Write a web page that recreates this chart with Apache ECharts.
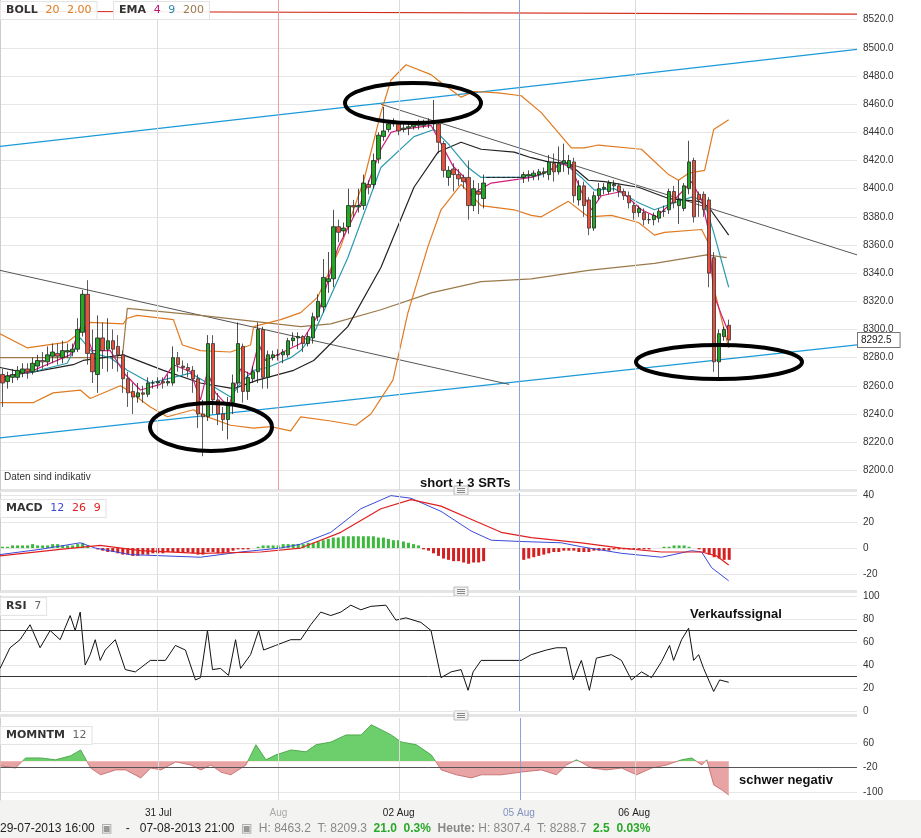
<!DOCTYPE html>
<html><head><meta charset="utf-8">
<script src="https://cdn.jsdelivr.net/npm/echarts@6/dist/echarts.min.js"></script>
<style>html,body{margin:0;padding:0;background:#fff}#c{width:921px;height:838px}</style>
</head><body><div id="c"></div>
<script>
const tickIdx=[31,55,79,103,126];
const tickText=['31 Jul','Aug','02 Aug','05 Aug','06 Aug'];
const candles=[
[8268,8262,8245,8272],[8263,8267,8258,8270],[8266,8268,8262,8272],[8266,8271,8264,8274],[8269,8272,8266,8276],
[8272,8270,8265,8276],[8270,8276,8268,8280],[8274,8278,8270,8282],[8278,8277,8272,8284],[8277,8282,8274,8288],
[8281,8284,8276,8290],[8283,8281,8275,8290],[8280,8285,8276,8292],[8284,8285,8280,8290],[8284,8286,8281,8290],
[8286,8300,8284,8308],[8298,8325,8295,8328],[8325,8283,8275,8335],[8283,8270,8262,8300],[8268,8294,8255,8310],
[8294,8285,8272,8305],[8286,8292,8270,8308],[8292,8286,8272,8300],[8288,8282,8270,8296],[8282,8265,8255,8285],
[8265,8255,8245,8270],[8256,8252,8240,8262],[8252,8255,8248,8262],[8255,8254,8248,8260],[8254,8262,8252,8266],
[8262,8262,8258,8264],[8262,8263,8258,8266],[8263,8262,8258,8266],[8262,8263,8260,8268],[8262,8280,8260,8288],
[8280,8275,8270,8284],[8274,8273,8268,8278],[8273,8271,8266,8276],[8271,8265,8255,8274],[8265,8240,8230,8268],
[8240,8238,8210,8250],[8238,8290,8235,8296],[8290,8250,8240,8296],[8250,8240,8232,8255],[8240,8236,8228,8245],
[8236,8248,8222,8252],[8248,8262,8240,8268],[8262,8290,8255,8305],[8288,8256,8248,8290],[8256,8266,8250,8270],
[8265,8270,8262,8274],[8270,8300,8262,8305],[8300,8266,8258,8302],[8266,8282,8258,8285],[8280,8282,8278,8285],
[8282,8282,8278,8286],[8282,8284,8276,8286],[8282,8292,8280,8294],[8292,8294,8288,8298],[8294,8295,8286,8298],
[8295,8290,8284,8296],[8290,8295,8288,8298],[8294,8309,8290,8312],[8309,8320,8306,8325],[8316,8337,8312,8350],
[8334,8336,8326,8355],[8336,8373,8330,8385],[8373,8369,8362,8378],[8370,8372,8366,8376],[8373,8388,8368,8400],
[8388,8387,8380,8392],[8387,8388,8383,8400],[8388,8404,8385,8410],[8403,8401,8396,8406],[8403,8420,8400,8425],
[8421,8438,8418,8440],[8437,8441,8434,8458],[8442,8446,8440,8449],[8446,8448,8444,8450],[8446,8441,8438,8448],
[8442,8443,8440,8446],[8443,8444,8438,8447],[8444,8446,8442,8448],[8445,8446,8442,8449],[8445,8447,8443,8449],
[8446,8447,8443,8450],[8446,8448,8442,8463],[8446,8433,8425,8447],[8432,8413,8408,8434],[8408,8413,8402,8416],
[8414,8410,8398,8418],[8410,8407,8402,8414],[8408,8405,8400,8410],[8408,8388,8378,8420],[8388,8400,8384,8406],
[8398,8396,8382,8404],[8393,8404,8386,8410],
[8408,8408,8408,8408],[8408,8408,8408,8408],[8408,8408,8408,8408],[8408,8408,8408,8408],[8408,8408,8408,8408],[8408,8408,8408,8408],[8408,8408,8408,8408],
[8408,8410,8404,8412],[8409,8410,8405,8413],[8409,8411,8406,8413],[8410,8412,8406,8414],[8411,8412,8408,8415],
[8410,8419,8406,8424],[8418,8412,8405,8425],[8412,8418,8410,8430],[8418,8420,8412,8432],[8415,8420,8410,8424],
[8419,8395,8390,8422],[8392,8402,8388,8406],[8402,8388,8380,8405],[8392,8372,8367,8394],[8372,8395,8370,8398],
[8395,8400,8392,8404],[8400,8401,8396,8404],[8398,8404,8396,8406],[8402,8403,8398,8406],[8402,8398,8394,8404],
[8398,8395,8392,8400],[8395,8390,8386,8398],[8388,8383,8378,8390],[8383,8386,8380,8388],[8383,8378,8374,8386],
[8378,8378,8375,8382],[8378,8381,8374,8383],[8379,8384,8376,8386],[8384,8384,8380,8388],[8385,8398,8382,8400],
[8398,8390,8386,8402],[8388,8392,8375,8406],[8386,8402,8384,8404],[8400,8419,8396,8434],[8420,8380,8376,8422],
[8396,8392,8380,8398],[8396,8385,8380,8398],[8392,8340,8330,8394],[8351,8277,8270,8355],[8277,8297,8265,8300],
[8295,8300,8292,8302],[8303,8292.5,8288,8307]];
const ema200=[[0,8280],[24.4,8280],[25.4,8315],[40,8310],[60,8302],[66,8304],[76,8314],[86,8326],[96,8334],[106,8336],[117.4,8342],[130.6,8347],[141,8353],[145,8351]];
const bollUpper=[[0,8297],[5.4,8287],[13.4,8291],[16,8298],[18,8305],[24.6,8304],[25.4,8308],[27.4,8310],[34.6,8307],[36.4,8289],[40,8285],[46,8284],[50,8289],[50.6,8302],[56,8307],[60,8312],[63.4,8323],[68,8359],[72.6,8406],[76,8454],[78,8477],[81,8488],[86,8481],[87.4,8477],[92,8465],[94.6,8469],[99.4,8468],[104,8466],[108,8454],[114,8429],[116.6,8429],[119.4,8431],[128,8428],[133.4,8410],[135.4,8406],[137.4,8411],[140.6,8413],[142.4,8442],[145.4,8449]];
const bollLower=[[0,8248],[6.6,8248],[10.6,8255],[16,8257],[18,8251],[24,8260],[25.4,8257],[30,8245],[33.4,8238],[38.6,8243],[40.6,8239],[46,8232],[50.6,8230],[54,8231],[58,8228],[60,8238],[66,8235],[71,8232],[74,8240],[78.4,8264],[81.4,8312],[85.4,8359],[88,8385],[92,8403],[96,8388],[102.6,8385],[106,8381],[108,8380],[113.4,8391],[117.4,8380],[122,8381],[127.4,8376],[130.6,8367],[132.6,8369],[140,8371],[141.4,8361],[142.4,8330],[145.4,8287]];
const bollMid=[[0,8273],[5.4,8269],[14.6,8275],[16.6,8278],[24.6,8282],[32.6,8271],[40,8262],[46.6,8258],[51.4,8264],[58.6,8271],[62.6,8278],[69.4,8302],[76,8344],[82.6,8401],[87.4,8426],[92,8433],[96,8428],[102.6,8426],[106,8422],[109.4,8419],[113.4,8418],[117.4,8406],[120.6,8405],[127.4,8401],[133.4,8393],[139.4,8391],[141.4,8387],[145.4,8367]];
const ema9=[[0,8266],[6.6,8270],[13.4,8276],[16,8294],[18.6,8283],[22,8280],[25.4,8271],[30,8262],[34.6,8266],[38,8269],[41.4,8262],[46,8252],[48,8262],[50.6,8271],[53.4,8273],[58,8280],[60,8285],[62.6,8297],[69.4,8351],[76,8415],[82.6,8437],[86.6,8442],[89.4,8432],[93.4,8415],[96,8408],[106,8408],[108,8410],[112.6,8418],[116,8408],[118.6,8399],[122.6,8400],[127.4,8390],[130.6,8385],[134.6,8390],[138,8394],[140.4,8392],[142.4,8369],[145.4,8330]];
const ema4=[[0,8266],[6,8270],[14,8282],[16.4,8305],[18.4,8285],[22,8285],[25,8268],[28,8257],[32,8261],[34.6,8275],[38,8270],[40,8250],[41.4,8270],[43,8255],[45.6,8245],[48,8272],[50,8268],[51.6,8290],[53,8278],[60,8290],[63.4,8310],[67.4,8358],[72,8390],[76,8428],[78,8440],[80,8442],[86,8445],[88,8432],[90.4,8416],[92.4,8409],[94,8396],[96,8400],[98,8404],[106,8408],[109,8412],[112,8418],[114,8415],[116,8398],[118,8385],[120,8395],[124,8398],[128,8385],[131,8380],[134,8390],[138,8405],[140,8392],[141.4,8370],[142.4,8325],[144,8310],[145.4,8298]];
const redTop=[[0,8526],[171,8524]];
const blueUp=[[0,8430],[171,8499]];
const blueLow=[[0,8223],[171,8289]];
const grayA=[[0,8342],[101.6,8261]];
const grayB=[[76,8460],[171,8353]];
const macdLine=[[0,-5],[8,-1],[16,4],[19,0],[26,-5],[40,-7],[48,-3],[56,0],[60,3],[66,12],[72,30],[78,40],[82,38],[88,28],[94,13],[98,6],[104,5],[112,4],[116,1],[124,-4],[132,-7],[138,-2],[140,-3],[142,-15],[145.4,-25]];
const macdSignal=[[0,-6],[12,-1],[20,2],[28,-2],[40,-4],[52,-3],[60,0],[68,12],[76,30],[82,37],[88,32],[94,22],[100,12],[106,8],[116,4],[124,0],[132,-3],[140,-3],[143,-6],[145.4,-13]];
const macdHist=[1,1,2,2,2,2,3,2,2,2,3,3,2,2,2,3,4,2,0,-1,
-2,-3,-3,-4,-5,-5,-6,-6,-5,-5,-4,-4,-4,-3,-3,-3,-3,-3,-4,-5,-5,-3,-3,-4,-4,-3,-2,-1,-1,-1,0,
1,2,2,2,2,3,3,3,3,3,4,4,5,6,7,8,8,9,9,9,9,9,9,9,8,8,7,6,6,5,4,3,2,
-1,-2,-4,-6,-8,-9,-10,-10,-11,-12,-11,-11,-10,
0,0,0,0,0,0,0,
-9,-8,-7,-6,-5,-4,-3,-3,-2,-2,-2,-3,-3,-3,-2,-2,-2,-2,-1,-1,-1,-1,-1,-1,-1,-1,0,0,1,1,2,2,2,1,0,-1,-3,-5,-7,-8,-9,-9];
const rsi=[[0,37],[2,55],[4,62],[6,75],[8,55],[10,70],[12,62],[14,83],[15,70],[16,86],[17,40],[18,49],[19,62],[20,44],[21,53],[23,62],[25,36],[27,34],[30,44],[33,44],[35,57],[37,53],[39,27],[40,29],[41.4,70],[42.4,36],[44,37],[45.6,31],[47,62],[48,37],[50,49],[51.6,70],[52.6,53],[55,57],[58,62],[60,62],[62,75],[64,86],[66,83],[68,86],[70,92],[72,88],[74,91],[77,92],[79,79],[81,81],[84,77],[86,70],[88,29],[90,34],[92,36],[93.4,18],[94.4,34],[96,44],[104,44],[106,49],[109,53],[111,55],[113,55],[114.4,27],[116,44],[117.6,18],[119,46],[122,49],[124,44],[126,27],[128,34],[130,29],[132,43],[133.6,57],[134.4,44],[136,62],[137.4,72],[138.4,44],[139.4,49],[140.4,37],[142.4,17],[143.6,27],[145.4,25]];
const momentum=[[0,-15],[3,-22],[5,11],[8,11],[11,5],[14,18],[16,37],[18,-22],[20,-44],[23,-28],[25,-28],[28,-54],[30,-22],[32,-28],[35,-2],[38,-12],[40,-28],[42,-12],[44,-35],[46,-44],[49,-12],[51,54],[53,5],[55,21],[58,37],[61,31],[63,54],[66,63],[69,86],[72,86],[74,119],[76,103],[78,86],[80,63],[83,54],[86,21],[88,-28],[91,-44],[94,-54],[96,-44],[100,-44],[104,-35],[108,-28],[111,-44],[113,-12],[115,5],[118,-22],[121,-28],[124,-22],[127,-44],[130,-22],[133,-12],[136,5],[138,11],[140,-12],[141,5],[142.4,-77],[144,-93],[145.4,-110]];
const priceTicks=[8200,8220,8240,8260,8280,8300,8320,8340,8360,8380,8400,8420,8440,8460,8480,8500,8520];
const macdTicks=[-20,0,20,40];
const rsiTicks=[0,20,40,60,80,100];
const momTicks=[-100,-20,60];
const lastPrice=8292.5;

const N=171;
const cats=[];for(let i=0;i<N;i++){const k=tickIdx.indexOf(i);cats.push(k>=0?tickText[k]:'');}
const vlinePos=[31.4,55.5,79.6,103.7,126.8];
const grids=[{left:0,right:64,top:0,height:490},{left:0,right:64,top:493,height:97},{left:0,right:64,top:596,height:115},{left:0,right:64,top:718,height:82}];
const xAxes=[],yAxes=[];
grids.forEach((g,i)=>{
 xAxes.push({type:'category',gridIndex:i,data:cats,boundaryGap:true,axisLine:{show:false},axisTick:{show:false},splitLine:{show:false},
   axisLabel:{show:i===3,interval:0,margin:8,fontSize:10,fontFamily:'Arial',formatter:v=>{if(!v)return '';const k=tickText.indexOf(v);return '{t'+k+'|'+v+'}';},
   rich:{t0:{color:'#222'},t1:{color:'#aaa'},t2:{color:'#222'},t3:{color:'#8090c0'},t4:{color:'#222'}}}});
 xAxes.push({type:'value',gridIndex:i,min:0,max:N,show:false});
});
const yl={fontSize:10,fontFamily:'Arial',color:'#333',margin:6};
function yax(g,min,max,ticks,fmt){return {type:'value',gridIndex:g,position:'right',min:min,max:max,axisLine:{show:true,lineStyle:{color:'#ccc'}},
  axisLabel:Object.assign({customValues:ticks},fmt?{formatter:fmt}:{},yl),axisTick:{show:false,customValues:ticks},splitLine:{show:true,lineStyle:{color:'#e6e6e6'}}};}
yAxes.push(yax(0,8186,8534,priceTicks,v=>v.toFixed(1)));
yAxes.push(yax(1,-32,42,macdTicks));
yAxes.push(yax(2,0,100,rsiTicks));
yAxes.push(yax(3,-126,141,momTicks));

function ln(data,color,g,w,z){return {type:'line',xAxisIndex:g*2+1,yAxisIndex:g,data:data,showSymbol:false,symbol:'none',lineStyle:{color:color,width:w||1},z:z||3,silent:true,animation:false};}
function vlines(g){return {type:'line',xAxisIndex:g*2+1,yAxisIndex:g,data:[],symbol:'none',markLine:{silent:true,symbol:'none',label:{show:false},
  data:vlinePos.map((p,k)=>({xAxis:p,lineStyle:{color:k===3?'#8da0dc':(k===1&&g===0?'#e8a0a0':'#dcdcdc'),width:1,type:'solid',opacity:1}}))},animation:false};}
function hline(g,val,color,label){return {type:'line',xAxisIndex:g*2+1,yAxisIndex:g,data:[],symbol:'none',z:6,markLine:{silent:true,symbol:'none',
  label:label||{show:false},data:[{yAxis:val}],lineStyle:{color:color,type:'solid',width:1}},animation:false};}
const momFill={type:'linear',x:0,y:718,x2:0,y2:800,global:true,colorStops:[{offset:0,color:'#6ccf6c'},{offset:0.528,color:'#6ccf6c'},{offset:0.528,color:'#e8a4a4'},{offset:1,color:'#e8a4a4'}]};
const momLine={type:'linear',x:0,y:718,x2:0,y2:800,global:true,colorStops:[{offset:0,color:'#3a9a3a'},{offset:0.528,color:'#3a9a3a'},{offset:0.528,color:'#c06060'},{offset:1,color:'#c06060'}]};
const series=[
 vlines(0),vlines(1),vlines(2),vlines(3),
 ln(redTop,'#d42a1a',0,1.2),
 ln(blueUp,'#1a9ad8',0,1.2),ln(blueLow,'#1a9ad8',0,1.2),
 ln(grayA,'#555',0,1),ln(grayB,'#555',0,1),
 ln(ema200,'#9a7a4a',0,1.2),
 ln(bollUpper,'#e07a20',0,1.2),ln(bollLower,'#e07a20',0,1.2),ln(bollMid,'#222',0,1.2),
 ln(ema9,'#2a9ab0',0,1.2,4),ln(ema4,'#d0207a',0,1.2,4),
 {type:'candlestick',xAxisIndex:0,yAxisIndex:0,data:candles,barWidth:4,z:5,animation:false,
  itemStyle:{color:'#22a822',color0:'#e8503c',borderColor:'#222',borderColor0:'#333',borderWidth:0.8}},
 hline(0,lastPrice,'rgba(0,0,0,0)',{show:true,position:'end',formatter:'8292.5',fontSize:10,fontFamily:'Arial',color:'#222',backgroundColor:'#fff',borderColor:'#777',borderWidth:1,padding:[2,8,2,3],distance:1}),
 {type:'bar',xAxisIndex:2,yAxisIndex:1,data:macdHist.map(v=>({value:v,itemStyle:{color:v>=0?'#3cb83c':'#d42020'}})),barWidth:3,animation:false},
 ln(macdLine,'#3a4ad8',1,1),ln(macdSignal,'#e02020',1,1.2),
 hline(2,70,'#333'),hline(2,30,'#333'),
 ln(rsi,'#111',2,1),
 {type:'line',xAxisIndex:7,yAxisIndex:3,data:momentum,showSymbol:false,symbol:'none',lineStyle:{width:0.8,color:momLine},areaStyle:{origin:0,opacity:1,color:momFill},animation:false,z:2},
 hline(3,-20,'#555')
];
const hb=(y)=>({type:'group',children:[{type:'rect',shape:{x:0,y:y,width:857,height:3},style:{fill:'#e4e4e4'}},
 {type:'rect',shape:{x:454,y:y-3,width:14,height:9},style:{fill:'#f2f2f2',stroke:'#bbb'}},
 {type:'line',shape:{x1:457,y1:y-0.5,x2:465,y2:y-0.5},style:{stroke:'#888'}},{type:'line',shape:{x1:457,y1:y+1.5,x2:465,y2:y+1.5},style:{stroke:'#888'}},{type:'line',shape:{x1:457,y1:y+3.5,x2:465,y2:y+3.5},style:{stroke:'#888'}}]});
const F='"DejaVu Sans"';
const lab=(x,y,t,rich)=>({type:'text',x:x,y:y,z:25,style:{text:t,rich:rich,font:'bold 11px '+F,fill:'#333',backgroundColor:'rgba(255,255,255,0.9)',borderColor:'#e4e4e4',borderWidth:1,padding:[3,5]}});
const richL={k:{font:'bold 11px '+F,fill:'#333'},o:{font:'11px '+F,fill:'#e07a20'},m:{font:'11px '+F,fill:'#c01870'},t:{font:'11px '+F,fill:'#2a8ab0'},b:{font:'11px '+F,fill:'#9a7a4a'},bl:{font:'11px '+F,fill:'#3a4ad8'},r:{font:'11px '+F,fill:'#e02020'},g:{font:'11px '+F,fill:'#666'}};
const graphic=[
 {type:'rect',shape:{x:0,y:800,width:921,height:38},style:{fill:'#f3f3f1'},z:-1},
 hb(489),hb(590),hb(714),
 {type:'ellipse',shape:{cx:413,cy:103,rx:68,ry:20},style:{fill:'none',stroke:'#000',lineWidth:4},z:20},
 {type:'ellipse',shape:{cx:211,cy:427,rx:61,ry:24},style:{fill:'none',stroke:'#000',lineWidth:4},z:20},
 {type:'ellipse',shape:{cx:719,cy:362,rx:83,ry:17},style:{fill:'none',stroke:'#000',lineWidth:4},z:20},
 lab(1,2,'{k|BOLL}  {o|20}  {o|2.00}',richL),
 lab(114,2,'{k|EMA}  {m|4}  {t|9}  {b|200}',richL),
 lab(1,500,'{k|MACD}  {bl|12}  {r|26}  {r|9}',richL),
 lab(1,598,'{k|RSI}  {g|7}',richL),
 lab(1,727,'{k|MOMNTM}  {g|12}',richL),
 {type:'text',x:4,y:472,style:{text:'Daten sind indikativ',font:'10px Arial',fill:'#333'}},
 {type:'text',x:420,y:477,style:{text:'short + 3 SRTs',font:'bold 13px Arial',fill:'#111'},z:30},
 {type:'text',x:690,y:608,style:{text:'Verkaufssignal',font:'bold 13px Arial',fill:'#111'},z:30},
 {type:'text',x:739,y:774,style:{text:'schwer negativ',font:'bold 13px Arial',fill:'#111'},z:30},
 {type:'text',x:0,y:823,style:{text:'{d|29-07-2013 16:00}  {i|▣}    {d|-}   {d|07-08-2013 21:00}  {i|▣}  {g|H: 8463.2  T: 8209.3}  {gr|21.0  0.3%}  {hb|Heute:}{g| H: 8307.4  T: 8288.7}  {gr|2.5  0.03%}',
  rich:{d:{font:'12px Arial',fill:'#222'},i:{font:'12px Arial',fill:'#999'},g:{font:'12px Arial',fill:'#888'},gr:{font:'bold 12px Arial',fill:'#2aa82a'},hb:{font:'bold 12px Arial',fill:'#888'}}}}
];
const chart=echarts.init(document.getElementById('c'),null,{renderer:'canvas'});
chart.setOption({animation:false,grid:grids,xAxis:xAxes,yAxis:yAxes,series:series,graphic:graphic});
</script></body></html>
